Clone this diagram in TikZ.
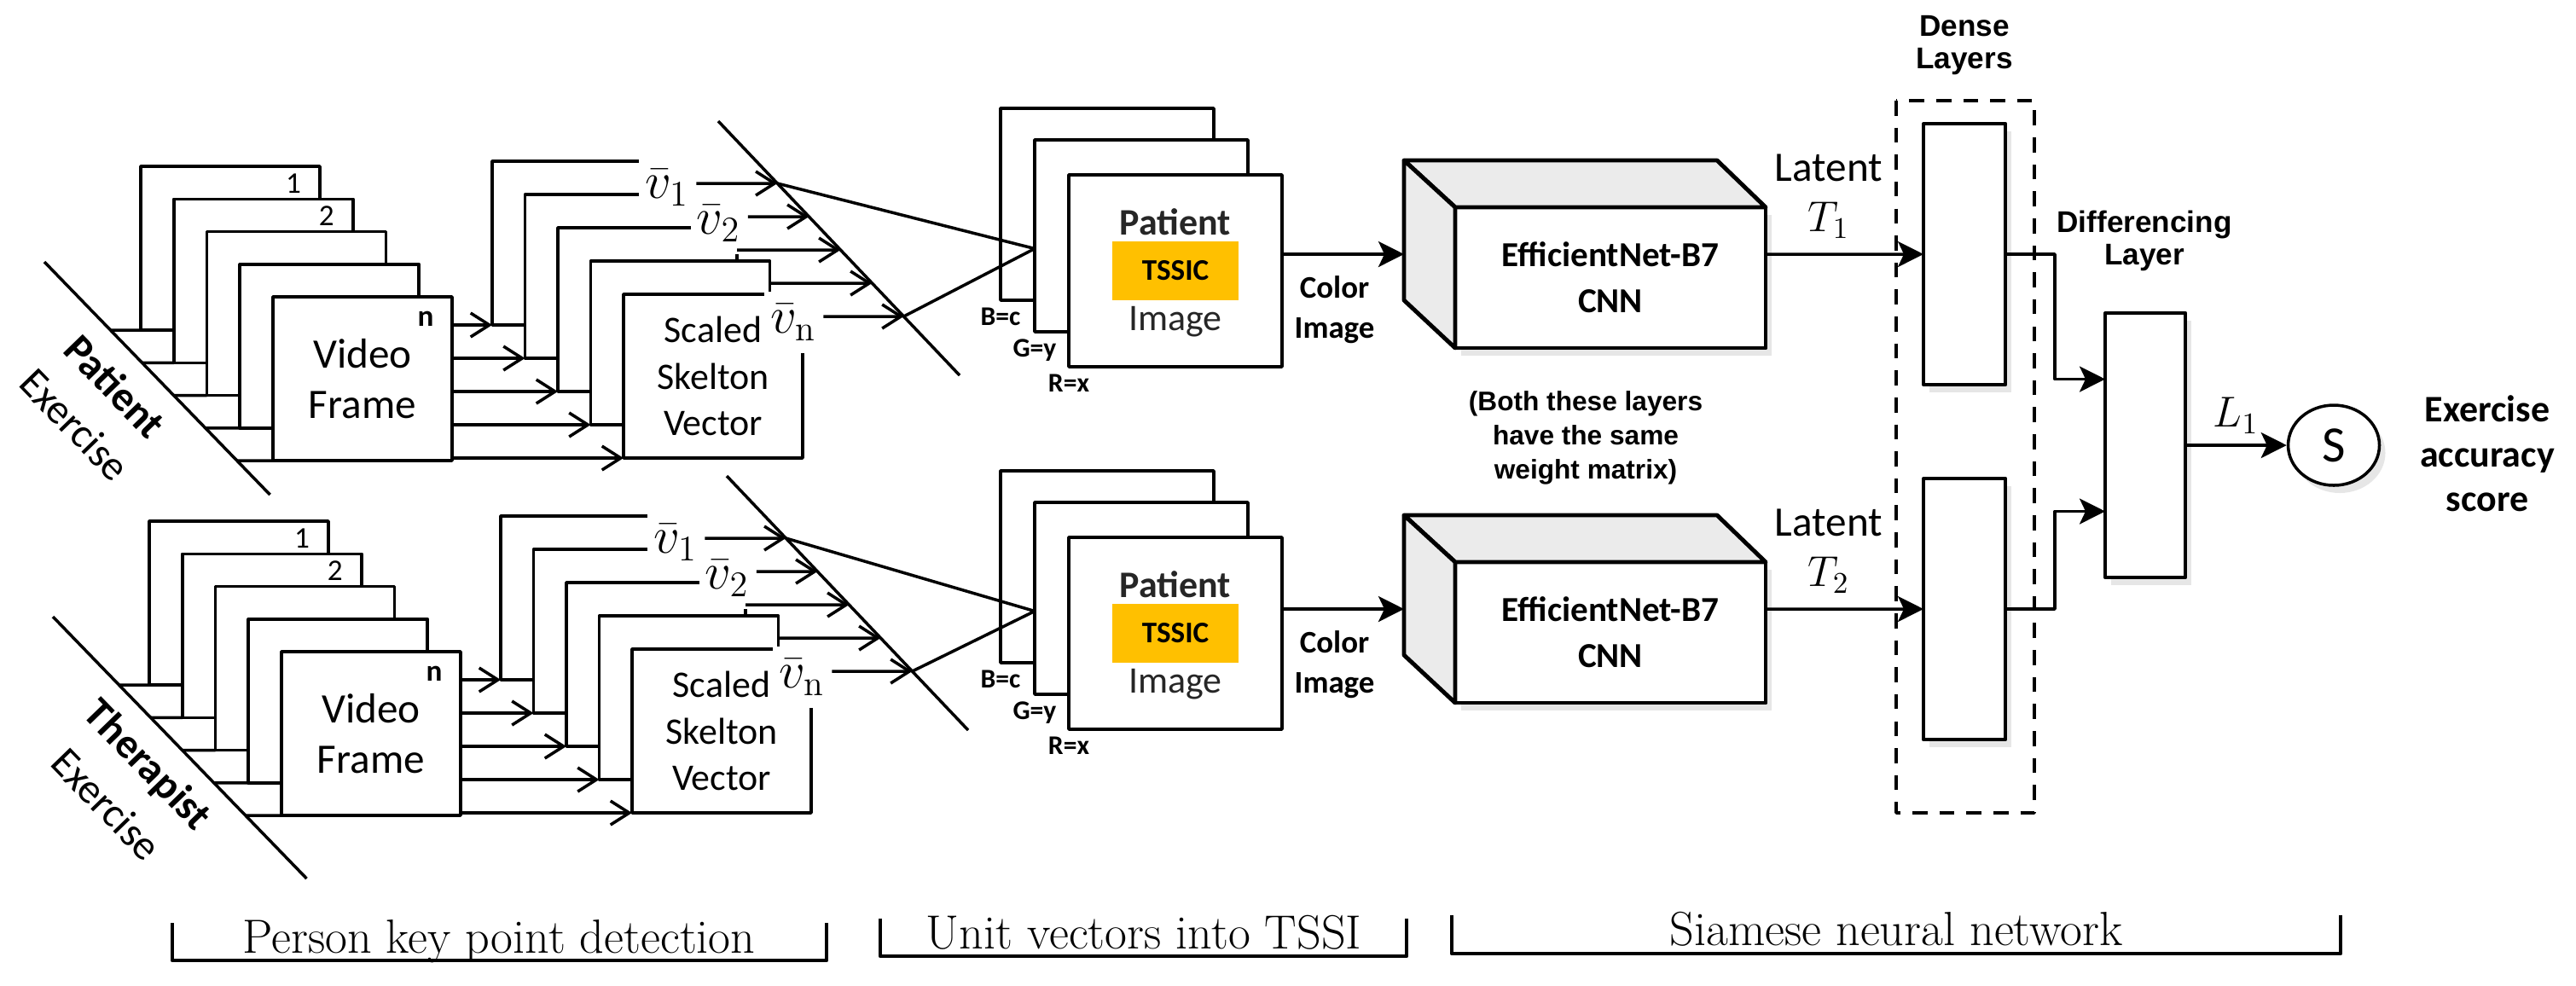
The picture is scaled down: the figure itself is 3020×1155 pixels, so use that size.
\documentclass[tikz,border=0pt]{standalone}
\usepackage{fontspec}
\newfontfamily\calib{Carlito}
\newfontfamily\arialfont{Liberation Sans}
\usetikzlibrary{calc}
\usetikzlibrary{arrows.meta}
\usetikzlibrary{shapes.geometric}
\usetikzlibrary{shadows}
\definecolor{tssicgold}{HTML}{FFC000}
\definecolor{sidegray}{HTML}{EBEBEB}

\begin{document}
\begin{tikzpicture}[x=0.1mm, y=-0.1mm, line width=1pt, line join=round, every node/.style={font=\calib}]
            \tikzstyle{vframe} = [draw, fill=white, anchor=north west, inner sep=0pt, outer sep=0pt, minimum width=21mm, minimum height=19.2mm, align=center]
            \tikzstyle{tframe} = [draw, fill=white, anchor=north west, outer sep=0pt, minimum width=25mm, minimum height=22.5mm]
            \tikzstyle{vlab} = [fill=white, inner xsep=2pt, inner ysep=4pt, font=\fontsize{17}{20}\selectfont]
            \tikzstyle{chan} = [below, inner sep=2pt, font=\calib\bfseries\fontsize{9}{11}\selectfont]
            \tikzstyle{softshadow} = [drop shadow={opacity=0.2, shadow xshift=0.7mm, shadow yshift=-0.9mm}]
            \tikzstyle{cnnface} = [draw, fill=white, line width=1.4pt, outer sep=0pt, minimum width=36.4mm, minimum height=16.5mm, align=center, font=\calib\bfseries\fontsize{11.7}{15.4}\selectfont]
            \tikzstyle{denselayer} = [draw, fill=white, line width=1.2pt, outer sep=0pt, minimum width=9.6mm, minimum height=30.6mm, softshadow]
            \tikzstyle{sidelab} = [align=center, font=\arialfont\bfseries\fontsize{10}{10.8}\selectfont]
            \tikzstyle{skarrow} = [-{Straight Barb[length=2.2mm, width=2.8mm]}]
            \tikzstyle{bigarrow} = [-{Stealth[length=3mm, width=3mm, inset=0.7mm]}]
            \tikzstyle{bracketline} = [line width=1.3pt]
            \tikzstyle{bracketlab} = [anchor=base, font=\rmfamily\fontsize{16}{19}\selectfont]
            \useasboundingbox (0, 0) rectangle (3020, 1155);

            \node[denselayer, minimum width=9.4mm, minimum height=31mm] (diff) at (2515, 522) {};
            \foreach \br/\dx/\dy/\ty/\lb/\wx/\wy/\who/\ix/\fr in {p/0/0/0/273/135/453/Patient/1/0.25, t/10/416/425/307/172/898/Therapist/2/0.75} {
                % exercise line and video frames
                \coordinate (\br d1a) at (52+\dx, 307+\dy);
                \coordinate (\br d1b) at ($(\br d1a)+(0.969*\lb, \lb)$);
                \draw (\br d1a) -- (\br d1b);
                \node[rotate=-45.9, font=\calib\bfseries\fontsize{14}{17}\selectfont] (\br who) at (\wx, \wy) {\who};
                \node[rotate=-45.9, font=\calib\fontsize{14}{17}\selectfont] (\br ex) at ($(\br who)+(-47, 45)$) {Exercise};
                \foreach \k in {0,...,3}
                    \node[vframe] (\br vf\k) at (165+38.75*\k+\dx, 195+38.25*\k+\dy) {};
                \node[vframe, font=\calib\fontsize{14}{17}\selectfont] (\br vf4) at (320+\dx, 348+\dy) {Video\\Frame};
                \foreach \k in {0,...,4}
                    \draw ($(\br d1a)!{(80+38.25*\k)/\lb}!(\br d1b)$) -- (\br vf\k.south west);
                \node[font=\calib\fontsize{10}{12}\selectfont] (\br na) at ($(\br vf0.north east)+(-31, 20)$) {1};
                \node[font=\calib\fontsize{10}{12}\selectfont] (\br nb) at ($(\br vf1.north east)+(-31, 20)$) {2};
                \node[font=\calib\bfseries\fontsize{10}{12}\selectfont] (\br nn) at ($(\br vf4.north east)+(-31, 26)$) {n};

                % skeleton vectors
                \foreach \k in {0,...,3}
                    \node[vframe] (\br sk\k) at (577+38.5*\k+\dx, 189+39*\k+\dy) {};
                \node[vframe, font=\calib\fontsize{12.5}{15.4}\selectfont] (\br sk4) at (731+\dx, 345+\dy) {Scaled\\Skelton\\Vector};
                \foreach \k in {0,...,4}
                    \draw[skarrow] (\br vf4.east |- \br sk\k.south west) -- (\br sk\k.south west);
                \coordinate (\br d2a) at (842+\dx, 142+\dy);
                \coordinate (\br d2b) at (1125+\dx, 440+\dy);
                \draw (\br d2a) -- (\br d2b);
                \foreach \k in {0,...,4} {
                    \coordinate (\br o\k) at ($(\br sk\k.north east)+(0, 26)$);
                    \coordinate (\br e\k) at ($(\br d2a)!{(73+39*\k)/298}!(\br d2b)$);
                }
                \node[vlab] (\br va) at ($(\br sk0.north east)+(-5, 31)$) {$\bar{v}_1$};
                \node[vlab] (\br vb) at ($(\br sk1.north east)+(17, 34)$) {$\bar{v}_2$};
                \node[vlab] (\br vn) at ($(\br sk4.north east)+(-11, 33)$) {$\bar{v}_{\mathrm{n}}$};
                \draw[skarrow] (\br va.east |- \br o0) -- (\br e0);
                \draw[skarrow] (\br vb.east |- \br o1) -- (\br e1);
                \draw[skarrow] (\br o2) -- (\br e2);
                \draw[skarrow] (\br o3) -- (\br e3);
                \draw[skarrow] (\br vn.east |- \br o4) -- (\br e4);

                % TSSI colour image
                \node[tframe] (\br tb) at (1173, 127+\ty) {};
                \node[tframe] (\br tg) at (1213, 164+\ty) {};
                \node[tframe] (\br tr) at (1253, 205+\ty) {};
                \node[fill=tssicgold, minimum width=14.8mm, minimum height=6.9mm, font=\calib\bfseries\fontsize{10}{12}\selectfont] (\br ts) at (\br tr.center) {TSSIC};
                \node[above, inner sep=1pt, text=black!85, font=\calib\bfseries\fontsize{12.5}{14}\selectfont] (\br tp) at (\br ts.north) {Patient};
                \node[below, inner sep=1pt, text=black!85, font=\calib\fontsize{12.5}{14}\selectfont] (\br ti) at (\br ts.south) {Image};
                \node[chan] (\br cb) at (\br tb.south west) {B=c};
                \node[chan] (\br cg) at (\br tg.south west) {G=y};
                \node[chan] (\br cr) at (\br tr.south west) {R=x};
                \coordinate (\br apex) at ($(\br tg.west)+(0, 15)$);
                \draw (\br e0) -- (\br apex) -- (\br e4);

                % siamese branch
                \node[cnnface, softshadow] (\br cnn) at (1888, 325.5+\dy) {EfficientNet-B7\\CNN};
                \draw[fill=sidegray, line width=1.4pt] (\br cnn.north west) -- ++(-60, -55) -- ($(\br cnn.north east)+(-57, -55)$) -- (\br cnn.north east) -- cycle;
                \draw[fill=sidegray, line width=1.4pt] (\br cnn.north west) -- ++(-60, -55) -- ++(0, 164) -- (\br cnn.south west) -- cycle;
                \coordinate (\br cin) at ($(\br cnn.north west)+(-60, 55)$);
                \draw[bigarrow] (\br tr.east |- \br cin) -- (\br cin) node[midway, below=1.2mm, xshift=-1mm, align=center, font=\calib\bfseries\fontsize{10.5}{13.4}\selectfont] (\br col) {Color\\Image};
                \node[denselayer] (\br dl) at (2303, 298+\dy) {};
                \draw[bigarrow] (\br cnn.east |- \br cin) -- (\br dl.west) node[pos=0.4, above=0.5mm, align=center, font=\calib\fontsize{14}{17}\selectfont] (\br lat) {Latent\\$T_{\ix}$};
                \coordinate (\br dj) at ($(diff.north west)!\fr!(diff.south west)$);
                \draw[bigarrow] (\br dl.east) -- ++(58, 0) |- (\br dj);
            }
            \draw[dash pattern=on 5pt off 4pt] (2223, 118) rectangle (2385, 953);
            \node[sidelab] (dlab) at (2303, 53) {Dense\\Layers};
            \node[sidelab] (flab) at (2514, 282) {Differencing\\Layer};
            \node[align=center, font=\arialfont\bfseries\fontsize{9}{11.4}\selectfont] (wlab) at (1859, 513) {(Both these layers\\have the same\\weight matrix)};
            \node[draw, ellipse, fill=white, softshadow, inner sep=0pt, minimum width=10.7mm, minimum height=9.4mm, font=\calib\fontsize{17}{20}\selectfont] (score) at (2736, 522) {S};
            \draw[bigarrow] (diff.east) -- (score) node[midway, above, font=\fontsize{14}{17}\selectfont] (lone) {$L_1$};
            \node[align=center, font=\calib\bfseries\fontsize{12.5}{15}\selectfont] (acc) at (2916, 532) {Exercise\\accuracy\\score};

            % stage brackets
            \draw[bracketline] (202, 1082) -- (202, 1126) -- (969, 1126) -- (969, 1082);
            \draw[bracketline] (1032, 1077) -- (1032, 1121) -- (1649, 1121) -- (1649, 1077);
            \draw[bracketline] (1702, 1073) -- (1702, 1118) -- (2744, 1118) -- (2744, 1073);
            \node[bracketlab] (kp) at (585, 1117) {Person key point detection};
            \node[bracketlab] (uv) at (1341, 1112) {Unit vectors into TSSI};
            \node[bracketlab] (sn) at (2223, 1108) {Siamese neural network};
\end{tikzpicture}
\end{document}
